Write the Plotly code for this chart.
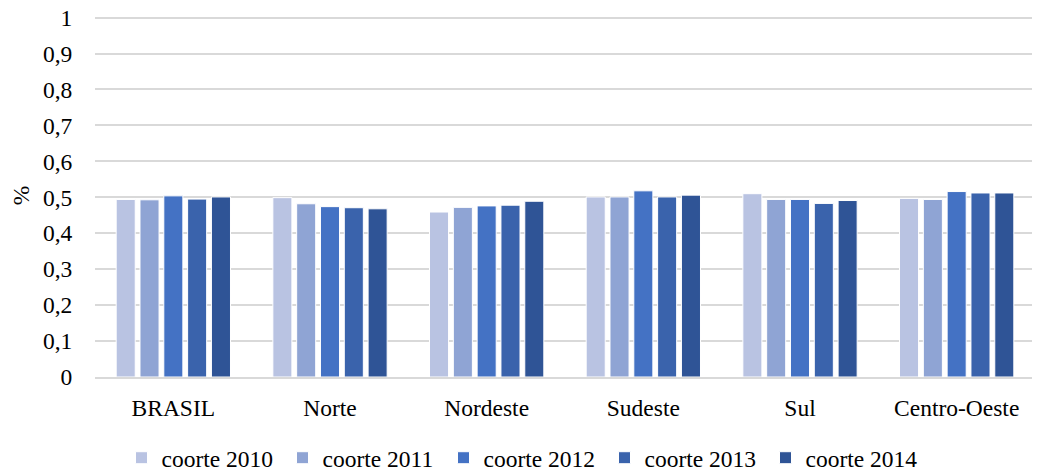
import plotly.graph_objects as go

categories = ["BRASIL", "Norte", "Nordeste", "Sudeste", "Sul", "Centro-Oeste"]
series_names = ["coorte 2010", "coorte 2011", "coorte 2012", "coorte 2013", "coorte 2014"]
coorte_2010 = [0.494, 0.499, 0.459, 0.501, 0.510, 0.497]
coorte_2011 = [0.493, 0.482, 0.472, 0.501, 0.494, 0.494]
coorte_2012 = [0.504, 0.474, 0.476, 0.518, 0.494, 0.516]
coorte_2013 = [0.495, 0.471, 0.478, 0.501, 0.483, 0.512]
coorte_2014 = [0.501, 0.468, 0.489, 0.506, 0.491, 0.512]
series_values = [coorte_2010, coorte_2011, coorte_2012, coorte_2013, coorte_2014]
y_tick_values = [0, 0.1, 0.2, 0.3, 0.4, 0.5, 0.6, 0.7, 0.8, 0.9, 1]
y_tick_labels = ["0", "0,1", "0,2", "0,3", "0,4", "0,5", "0,6", "0,7", "0,8", "0,9", "1"]
colors = ["#B9C3E2", "#8FA4D4", "#4472C4", "#3A63AC", "#2F5496"]

font = "Liberation Serif"
fs = 23.5

fig = go.Figure()
for name, vals, col in zip(series_names, series_values, colors):
    fig.add_trace(go.Bar(x=categories, y=vals, name=name,
                         marker=dict(color=col, line=dict(color="white", width=1))))

fig.update_layout(
    width=1032, height=461,
    margin=dict(l=87, r=5, t=6.4, b=92, autoexpand=False),
    paper_bgcolor="white", plot_bgcolor="white",
    barmode="group", bargap=0.24, bargroupgap=0.2,
    separators=", ",
    font=dict(family=font, size=fs, color="#000000"),
    showlegend=True,
    legend=dict(orientation="h", x=0.5, xanchor="center", xref="container",
                y=0.024, yanchor="middle", yref="container",
                font=dict(family=font, size=fs), traceorder="normal",
                entrywidth=116, entrywidthmode="pixels"),
    xaxis=dict(showgrid=False, showline=True, linecolor="#D9D9D9", linewidth=1.5,
               ticks="outside", ticklen=9, tickcolor="rgba(0,0,0,0)",
               tickfont=dict(family=font, size=fs)),
    yaxis=dict(range=[0, 1.01], tickmode="array", tickvals=y_tick_values, ticktext=y_tick_labels,
               showgrid=True, gridcolor="#D9D9D9", gridwidth=1.5,
               zeroline=False, showline=False, ticklabeloverflow="allow",
               ticks="outside", ticklen=17, tickcolor="rgba(0,0,0,0)",
               title=dict(text="%", standoff=10, font=dict(family=font, size=fs)),
               tickfont=dict(family=font, size=fs)),
)

fig.write_html("out.html")
